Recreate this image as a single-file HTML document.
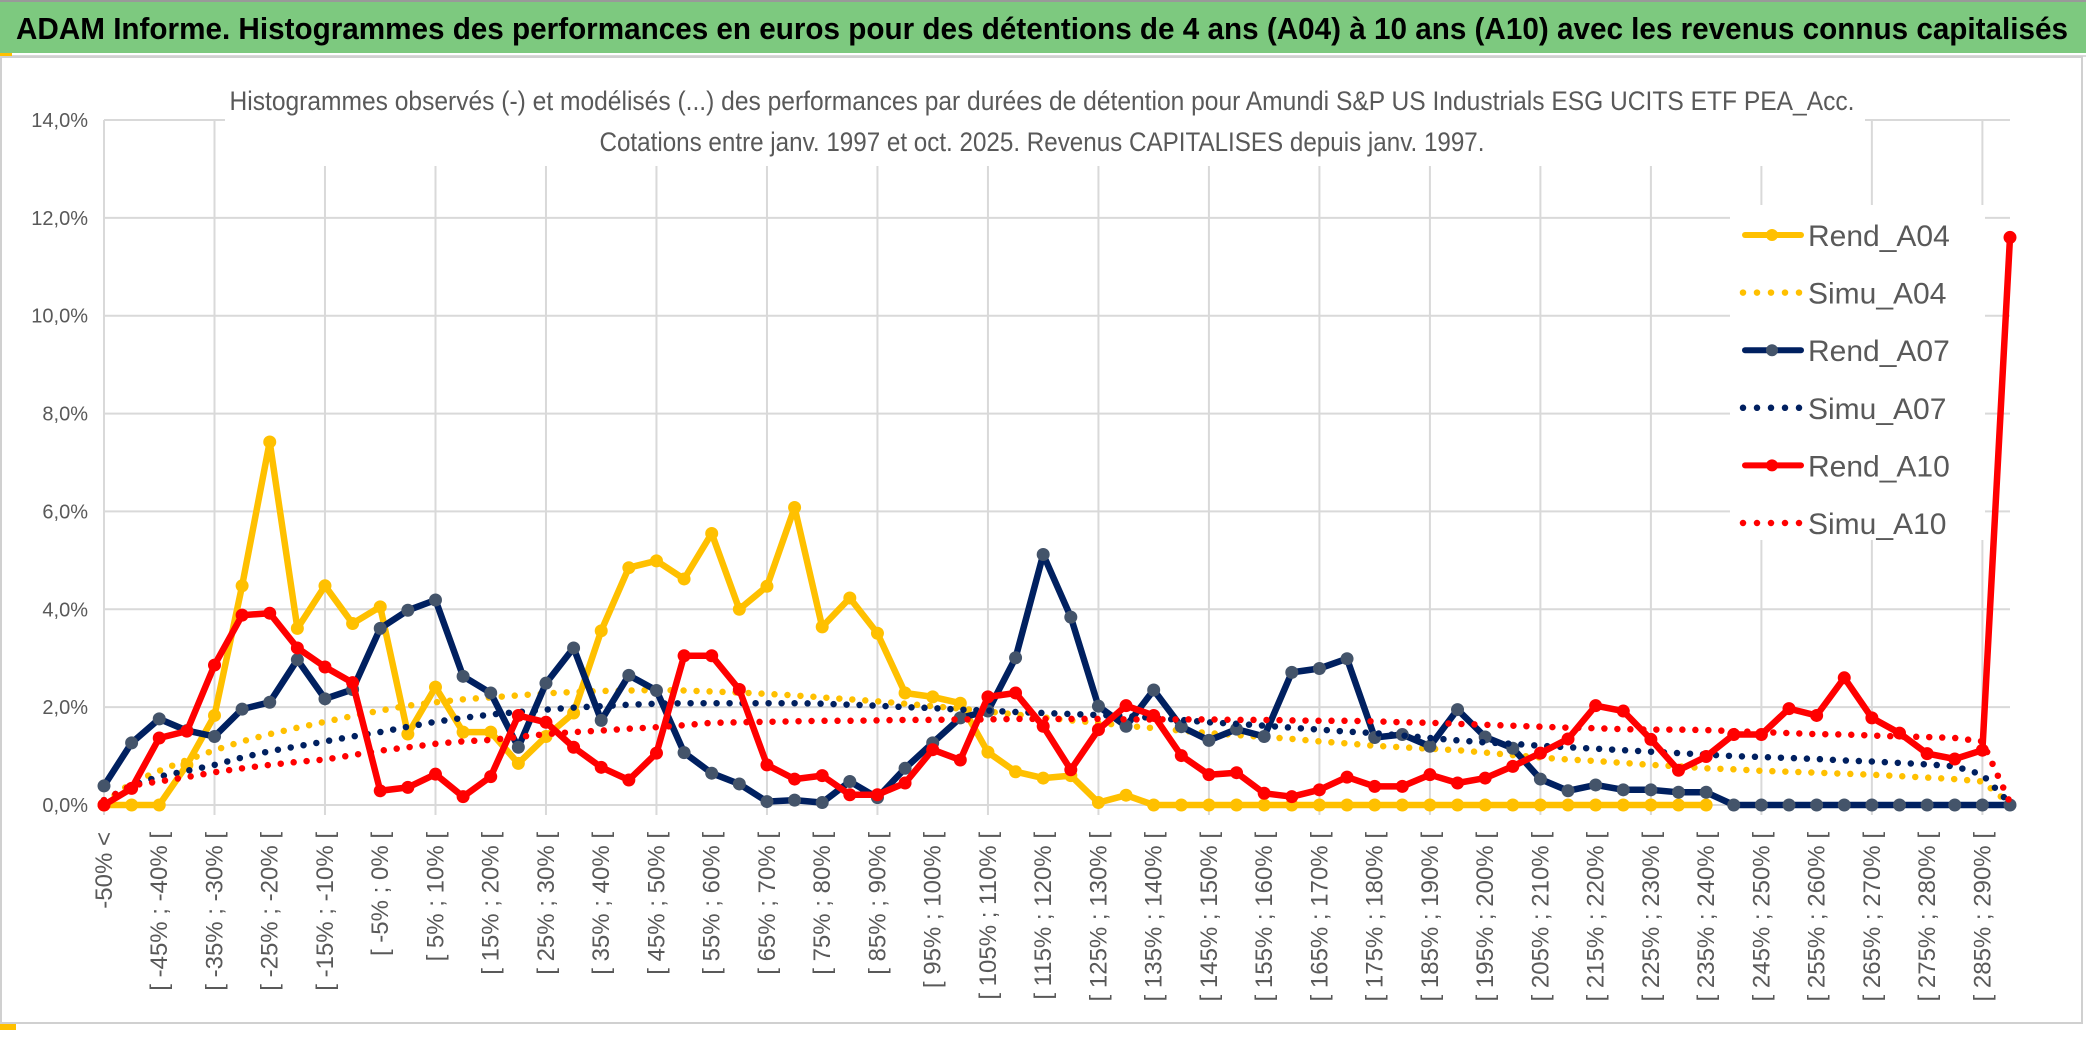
<!DOCTYPE html>
<html><head><meta charset="utf-8">
<style>
html,body{margin:0;padding:0;background:#fff;}
body{width:2086px;height:1033px;overflow:hidden;font-family:"Liberation Sans Narrow","Liberation Sans",sans-serif;}
svg text{font-family:"Liberation Sans Narrow","Liberation Sans",sans-serif;}
</style></head>
<body>
<svg id="chart" width="2086" height="1033" viewBox="0 0 2086 1033" xmlns="http://www.w3.org/2000/svg">
  <rect x="0" y="0" width="2086" height="1033" fill="#fff"/>
  <rect x="0" y="2" width="2086" height="51" fill="#7DC97F"/>
  <rect x="0" y="0" width="2086" height="2" fill="#999"/>
  <text x="16" y="39" font-size="31" font-weight="bold" fill="#000" textLength="2052" lengthAdjust="spacingAndGlyphs">ADAM Informe. Histogrammes des performances en euros pour des détentions de 4 ans (A04) à 10 ans (A10) avec les revenus connus capitalisés</text>
  <rect x="0" y="53" width="12" height="4" fill="#FFC000"/>
  <rect x="12" y="55" width="2074" height="2" fill="#d9d9d9"/>
  <rect x="1" y="57" width="2081" height="966" fill="none" stroke="#d0d0d0" stroke-width="2"/>
  <rect x="0" y="1024" width="16" height="6" fill="#FFC000"/>
  <g id="grid"></g>
  <rect x="225" y="80" width="1640" height="86" fill="#fff"/>
  <text x="1042" y="110" font-size="27" fill="#595959" text-anchor="middle" textLength="1625" lengthAdjust="spacingAndGlyphs">Histogrammes observés (-) et modélisés (...) des performances par durées de détention pour Amundi S&amp;P US Industrials ESG UCITS ETF PEA_Acc.</text>
  <text x="1042" y="151" font-size="27" fill="#595959" text-anchor="middle" textLength="885" lengthAdjust="spacingAndGlyphs">Cotations entre janv. 1997 et oct. 2025. Revenus CAPITALISES depuis janv. 1997.</text>
  <g id="yaxis"></g>
  <g id="xaxis"></g>
  <g id="series"></g>
  <g id="legend"></g>
</svg>
<script>
const categories = [];
categories.push('-50% <');
for (let k = 1; k <= 69; k++) { categories.push('[ ' + (-55 + 5 * k) + '% ; ' + (-50 + 5 * k) + '% ['); }
const yTicks = [0, 2, 4, 6, 8, 10, 12, 14];
const yTickLabels = ['0,0%', '2,0%', '4,0%', '6,0%', '8,0%', '10,0%', '12,0%', '14,0%'];
const rendA04 = [0,0,0,0.82,1.83,4.48,7.42,3.61,4.48,3.71,4.05,1.45,2.41,1.49,1.49,0.85,1.40,1.88,3.56,4.85,4.99,4.62,5.55,4.0,4.47,6.08,3.64,4.23,3.51,2.29,2.21,2.08,1.08,0.68,0.55,0.6,0.05,0.2,0,0,0,0,0,0,0,0,0,0,0,0,0,0,0,0,0,0,0,0,0,null,null,null,null,null,null,null,null,null,null,null];
const simuA04 = [0.05,0.45,0.7,0.92,1.12,1.3,1.45,1.58,1.7,1.82,1.93,2.03,2.1,2.16,2.2,2.24,2.28,2.31,2.33,2.34,2.35,2.34,2.32,2.3,2.27,2.24,2.2,2.16,2.12,2.07,2.02,1.97,1.91,1.85,1.79,1.73,1.68,1.62,1.57,1.52,1.47,1.43,1.39,1.35,1.3,1.26,1.21,1.18,1.15,1.12,1.07,1.02,0.97,0.93,0.9,0.86,0.82,0.79,0.75,0.73,0.7,0.68,0.66,0.64,0.62,0.59,0.56,0.53,0.48,0.02];
const rendA07 = [0.39,1.27,1.76,1.52,1.40,1.96,2.10,2.97,2.17,2.36,3.61,3.98,4.19,2.63,2.29,1.18,2.49,3.21,1.73,2.65,2.34,1.07,0.65,0.43,0.07,0.1,0.05,0.48,0.15,0.75,1.27,1.78,1.92,3.01,5.12,3.84,2.02,1.61,2.35,1.6,1.32,1.55,1.40,2.71,2.79,2.99,1.38,1.44,1.2,1.95,1.39,1.16,0.53,0.29,0.41,0.31,0.31,0.26,0.26,0,0,0,0,0,0,0,0,0,0,0];
const simuA07 = [0.1,0.4,0.58,0.7,0.82,0.97,1.1,1.2,1.3,1.4,1.49,1.6,1.7,1.78,1.85,1.9,1.95,1.99,2.02,2.05,2.07,2.08,2.08,2.08,2.08,2.08,2.07,2.05,2.03,2.0,1.98,1.95,1.93,1.9,1.88,1.86,1.84,1.82,1.78,1.74,1.69,1.66,1.62,1.58,1.54,1.5,1.47,1.42,1.37,1.32,1.28,1.25,1.21,1.18,1.15,1.12,1.09,1.06,1.03,1.0,0.98,0.96,0.94,0.91,0.89,0.86,0.83,0.79,0.62,0.03];
const rendA10 = [0,0.34,1.37,1.51,2.86,3.88,3.92,3.21,2.82,2.50,0.29,0.36,0.63,0.17,0.58,1.83,1.69,1.18,0.77,0.51,1.06,3.05,3.05,2.36,0.82,0.53,0.6,0.21,0.21,0.45,1.13,0.92,2.21,2.29,1.61,0.72,1.54,2.03,1.83,1.01,0.62,0.66,0.24,0.17,0.31,0.57,0.38,0.38,0.62,0.45,0.55,0.79,1.06,1.35,2.03,1.92,1.34,0.71,0.99,1.44,1.44,1.97,1.83,2.60,1.78,1.47,1.05,0.94,1.12,11.6];
const simuA10 = [0.1,0.4,0.48,0.57,0.67,0.75,0.82,0.88,0.93,1.02,1.11,1.18,1.25,1.3,1.33,1.39,1.45,1.49,1.52,1.56,1.59,1.63,1.68,1.69,1.7,1.71,1.72,1.72,1.73,1.74,1.74,1.75,1.75,1.76,1.76,1.76,1.76,1.75,1.75,1.75,1.75,1.74,1.74,1.73,1.72,1.72,1.71,1.69,1.68,1.66,1.64,1.62,1.6,1.58,1.57,1.55,1.54,1.54,1.53,1.51,1.49,1.47,1.45,1.44,1.42,1.4,1.39,1.37,1.3,0.05];

const NS = 'http://www.w3.org/2000/svg';
const X0 = 104, X1 = 2010, Y0 = 805, YTOP = 120, YMAX = 14;
function xPos(i) { return X0 + i * (X1 - X0) / (categories.length - 1); }
function yPos(v) { return Y0 - v * (Y0 - YTOP) / YMAX; }
function mk(tag, attrs, parent) {
  const e = document.createElementNS(NS, tag);
  for (const k in attrs) e.setAttribute(k, attrs[k]);
  parent.appendChild(e);
  return e;
}
const grid = document.getElementById('grid');
yTicks.forEach(function (t) {
  const l = mk('line', {x1: X0, x2: X1, y1: yPos(t), y2: yPos(t), stroke: '#d9d9d9', 'stroke-width': 2}, grid);
  
  
});
for (let i = 0; i < categories.length; i += 4) {
  const l = mk('line', {x1: xPos(i), x2: xPos(i), y1: YTOP, y2: Y0 + 10, stroke: '#d9d9d9', 'stroke-width': 2}, grid);
  
  
}
const yaxis = document.getElementById('yaxis');
yTicks.forEach(function (t, k) {
  const tx = mk('text', {x: 88, y: yPos(t) + 7, 'font-size': 20, fill: '#595959', 'text-anchor': 'end'}, yaxis);
  tx.textContent = yTickLabels[k];
  
  
});
const xaxis = document.getElementById('xaxis');
for (let i = 0; i < categories.length - 1; i += 2) {
  const x = xPos(i) + 8;
  const tx = mk('text', {x: 0, y: 0, 'font-size': 24, fill: '#595959', 'text-anchor': 'end', transform: 'translate(' + x + ',832) rotate(-90)'}, xaxis);
  tx.textContent = categories[i];
  
  
}
const series = document.getElementById('series');
function pathFor(arr) {
  let d = '', pen = false;
  arr.forEach(function (v, i) {
    if (v === null) { pen = false; return; }
    d += (pen ? 'L' : 'M') + xPos(i).toFixed(1) + ' ' + yPos(v).toFixed(1) + ' ';
    pen = true;
  });
  return d;
}
function solid(arr, color, mcolor, name) {
  const p = mk('path', {d: pathFor(arr), fill: 'none', stroke: color, 'stroke-width': 6.5, 'stroke-linejoin': 'round'}, series);
  
  
  arr.forEach(function (v, i) {
    if (v === null) return;
    const c = mk('circle', {cx: xPos(i), cy: yPos(v), r: 6.5, fill: mcolor}, series);
    
    
  });
}
function dotted(arr, color, name) {
  const p = mk('path', {d: pathFor(arr), fill: 'none', stroke: color, 'stroke-width': 6.5, 'stroke-linecap': 'round', 'stroke-dasharray': '0 13'}, series);
  
  
}
solid(rendA04, '#FFC000', '#FFC000', 'rend-a04');
dotted(simuA04, '#FFC000', 'simu-a04');
solid(rendA07, '#002060', '#44546A', 'rend-a07');
dotted(simuA07, '#002060', 'simu-a07');
solid(rendA10, '#FF0000', '#FF0000', 'rend-a10');
dotted(simuA10, '#FF0000', 'simu-a10');

const legend = document.getElementById('legend');
const bg = mk('rect', {x: 1730, y: 205, width: 255, height: 335, fill: '#fff'}, legend);


const legNames = ['Rend_A04', 'Simu_A04', 'Rend_A07', 'Simu_A07', 'Rend_A10', 'Simu_A10'];
const legColors = ['#FFC000', '#FFC000', '#002060', '#002060', '#FF0000', '#FF0000'];
const legMarker = ['#FFC000', null, '#44546A', null, '#FF0000', null];
legNames.forEach(function (n, k) {
  const y = 235 + k * 57.6;
  const g = mk('g', {}, legend);
  
  
  if (legMarker[k]) {
    mk('line', {x1: 1745, x2: 1801, y1: y, y2: y, stroke: legColors[k], 'stroke-width': 6, 'stroke-linecap': 'round'}, g);
    mk('circle', {cx: 1772, cy: y, r: 6, fill: legMarker[k]}, g);
  } else {
    mk('line', {x1: 1743, x2: 1803, y1: y, y2: y, stroke: legColors[k], 'stroke-width': 6.5, 'stroke-linecap': 'round', 'stroke-dasharray': '0 14'}, g);
  }
  const t = mk('text', {x: 1808, y: y + 11, 'font-size': 30, fill: '#595959'}, g);
  t.textContent = n;
});
</script>
</body></html>
